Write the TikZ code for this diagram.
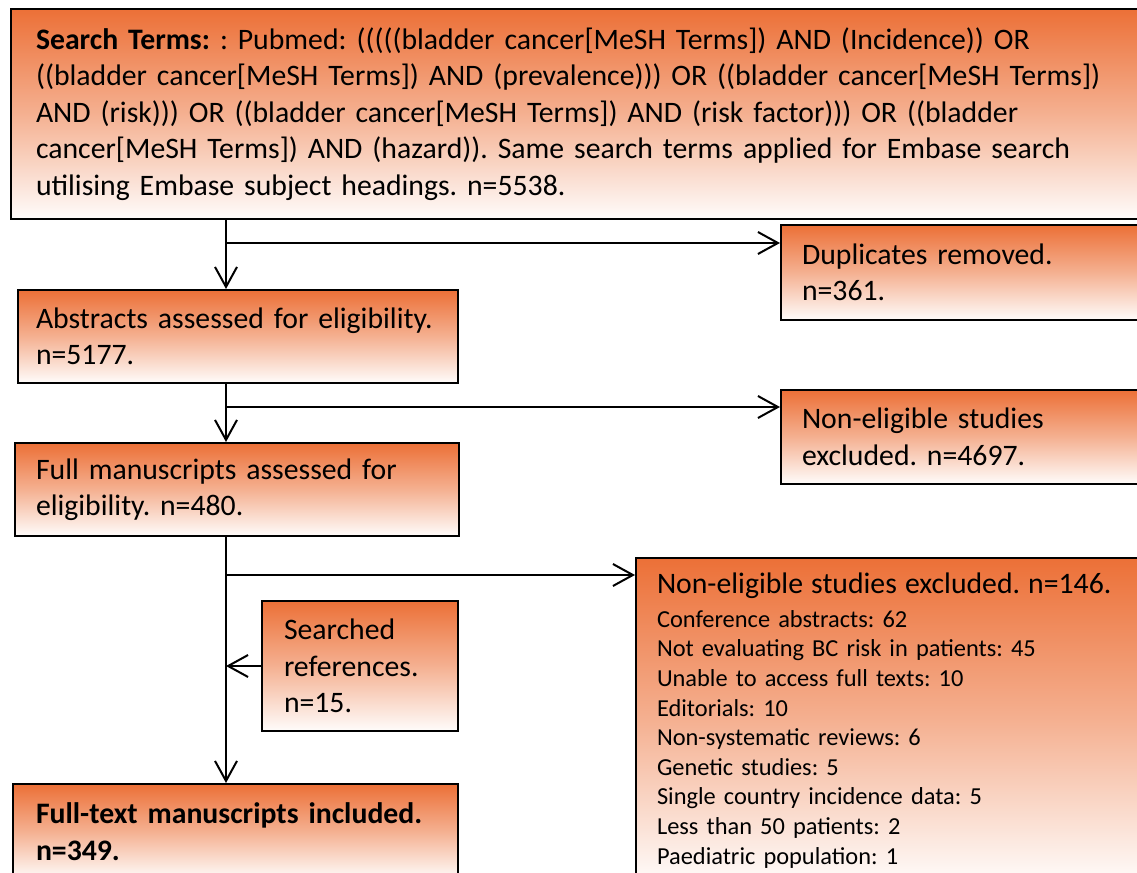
\documentclass[tikz,border=0pt]{standalone}
\usepackage{fontspec}
\setmainfont{Carlito}
\usetikzlibrary{arrows.meta}
\definecolor{boxorange}{RGB}{236,112,55}
\frenchspacing

\begin{document}
\begin{tikzpicture}[x=0.75pt, y=-0.75pt, line width=1.5pt,
  stage/.style={draw=black, top color=boxorange, bottom color=boxorange!2,
    middle color=boxorange!55, anchor=north west, align=left, inner ysep=0pt,
    font={\fontsize{22.3}{27.4}\selectfont}},
  flow/.style={-{Straight Barb[length=15pt, width=16.5pt]}}]
  \useasboundingbox (0,0) rectangle (1137,873);
  \clip (0,0) rectangle (1137,873);

  % boxes
  \node[stage, inner xsep=18.75pt, text width=813.75pt, minimum height=157.5pt] (search) at (10,8)
    {\textbf{Search Terms:} : Pubmed: (((((bladder cancer[MeSH Terms]) AND (Incidence)) OR\\
     ((bladder cancer[MeSH Terms]) AND (prevalence))) OR ((bladder cancer[MeSH Terms])\\
     AND (risk))) OR ((bladder cancer[MeSH Terms]) AND (risk factor))) OR ((bladder\\
     cancer[MeSH Terms]) AND (hazard)). Same search terms applied for Embase search\\
     utilising Embase subject headings. n=5538.};
  \node[stage, inner xsep=15.75pt, text width=242.25pt, minimum height=71.25pt] (dup) at (780,224)
    {Duplicates removed.\\ n=361.};
  \node[stage, inner xsep=13.5pt, text width=303pt, minimum height=69.75pt] (abs) at (17,289)
    {Abstracts assessed for eligibility.\\ n=5177.};
  \node[stage, inner xsep=15.75pt, text width=242.25pt, minimum height=70.5pt] (excl1) at (780,389)
    {Non-eligible studies\\ excluded. n=4697.};
  \node[stage, inner xsep=15.75pt, text width=301.5pt, minimum height=69.75pt] (fullms) at (14,442)
    {Full manuscripts assessed for\\ eligibility. n=480.};
  \node[stage, inner xsep=15.75pt, text width=366pt, minimum height=243.75pt,
    font={\fontsize{18.3}{22.2}\selectfont}] (excl2) at (635,557)
    {{\fontsize{22.3}{27.4}\selectfont Non-eligible studies excluded. n=146.}\\[3pt]
     Conference abstracts: 62\\
     Not evaluating BC risk in patients: 45\\
     Unable to access full texts: 10\\
     Editorials: 10\\
     Non-systematic reviews: 6\\
     Genetic studies: 5\\
     Single country incidence data: 5\\
     Less than 50 patients: 2\\
     Paediatric population: 1};
  \node[stage, inner xsep=16.5pt, text width=114pt, minimum height=97.5pt] (refs) at (261,600)
    {Searched\\ references.\\ n=15.};
  \node[stage, inner xsep=17.25pt, text width=299.25pt, minimum height=71.25pt] (incl) at (12,783)
    {\textbf{Full-text manuscripts included.}\\ \textbf{n=349.}};

  % trunk and branch points
  \coordinate (trunk) at (226,0);
  \coordinate (b1) at (226,243);
  \coordinate (b2) at (226,407);
  \coordinate (b3) at (226,575);

  \draw[flow] (search.south -| trunk) -- (abs.north -| trunk);
  \draw[flow] (b1) -- (b1 -| dup.west);
  \draw[flow] (abs.south -| trunk) -- (fullms.north -| trunk);
  \draw[flow] (b2) -- (b2 -| excl1.west);
  \draw[flow] (fullms.south -| trunk) -- (incl.north -| trunk);
  \draw[flow] (b3) -- (b3 -| excl2.west);
  \draw[flow] (refs.west) -- (refs.west -| trunk);
\end{tikzpicture}
\end{document}
